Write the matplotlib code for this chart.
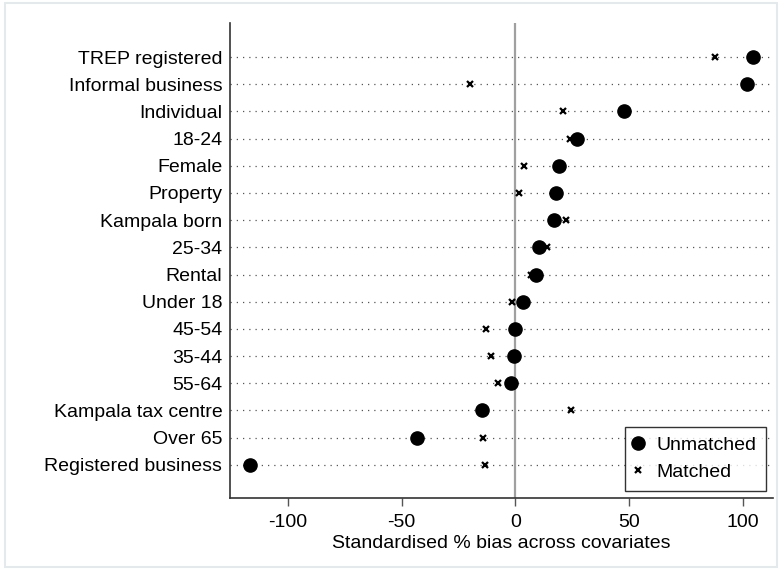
import numpy as np
import matplotlib.pyplot as plt
from matplotlib.patches import Rectangle

plt.rcParams['font.family'] = ['Liberation Sans', 'DejaVu Sans']

# covariates, top to bottom
covariates = ['TREP registered', 'Informal business', 'Individual', '18-24', 'Female',
              'Property', 'Kampala born', '25-34', 'Rental', 'Under 18', '45-54',
              '35-44', '55-64', 'Kampala tax centre', 'Over 65', 'Registered business']
unmatched = [104.4, 101.9, 47.8, 27.2, 19.1, 17.8, 16.9, 10.5, 9.0, 3.2, -0.1,
             -0.7, -1.8, -14.7, -43.4, -116.7]
matched = [87.9, -20.0, 20.9, 24.0, 3.7, 1.5, 22.2, 14.0, 6.7, -1.7, -13.0,
           -10.6, -7.7, 24.4, -14.4, -13.5]
xticks = [-100, -50, 0, 50, 100]

fs = 14

fig = plt.figure(figsize=(7.82, 5.70), dpi=100)
ax = fig.add_axes([0.294, 0.1263, 0.6945, 0.8333])

y = np.arange(len(covariates))
for yi in y:
    ax.axhline(yi, color='#555555', linestyle=(0, (1, 4)), linewidth=0.9, zorder=1)
ax.axvline(0, color='#a0a0a0', linewidth=1.6, zorder=1)

ax.plot(unmatched, y, 'o', color='black', markersize=9.5, linestyle='none',
        label='Unmatched', zorder=3)
ax.plot(matched, y, 'x', color='black', markersize=5, markeredgewidth=1.6,
        linestyle='none', label='Matched', zorder=3)

ax.set_yticks(y)
ax.set_yticklabels(covariates, fontsize=fs)
ax.set_ylim(len(covariates) - 1 + 1.22, -1.25)
ax.set_xlim(-125.5, 113.2)
ax.set_xticks(xticks)
ax.set_xticklabels([str(t) for t in xticks], fontsize=fs)
ax.set_xlabel('Standardised % bias across covariates', fontsize=fs, labelpad=3)

ax.tick_params(axis='y', length=0, pad=5.5)
ax.tick_params(axis='x', length=6, color='#555555', width=1, pad=5.5)
for s in ['top', 'right']:
    ax.spines[s].set_visible(False)
for s in ['left', 'bottom']:
    ax.spines[s].set_color('#333333')
    ax.spines[s].set_linewidth(1.2)

leg = ax.legend(loc='lower right', fontsize=fs, frameon=True, fancybox=False,
                edgecolor='black', handletextpad=0.8, borderpad=0.5,
                labelspacing=0.5, handlelength=0.3, borderaxespad=0,
                bbox_to_anchor=(0.987, 0.0147))
leg.get_frame().set_linewidth(1.0)

fig.patches.append(Rectangle((0.007, 0.005), 0.987, 0.99, transform=fig.transFigure,
                             fill=False, edgecolor='#e4eaec', linewidth=1.5))

fig.savefig('out.png', dpi=100)
